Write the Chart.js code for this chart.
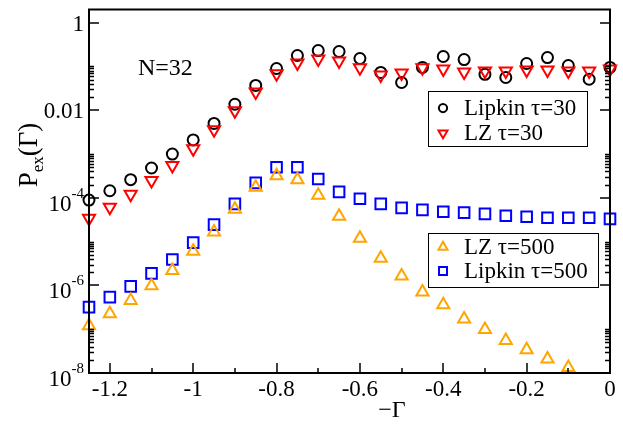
<!DOCTYPE html>
<html>
<head>
<meta charset="utf-8">
<script src="https://cdn.jsdelivr.net/npm/chart.js@4/dist/chart.umd.min.js"></script>
<style>
  html, body { margin: 0; padding: 0; background: #fff; }
  canvas { display: block; }
</style>
</head>
<body>
<canvas id="pex" width="623" height="424"></canvas>
<script>
// -Gamma values
var gamma = [-1.25, -1.2, -1.15, -1.1, -1.05, -1.0, -0.95, -0.9, -0.85, -0.8, -0.75, -0.7, -0.65,
             -0.6, -0.55, -0.5, -0.45, -0.4, -0.35, -0.3, -0.25, -0.2, -0.15, -0.1, -0.05, 0];

var lipkin30 = [8.9e-5, 1.45e-4, 2.6e-4, 4.8e-4, 1.0e-3, 2.1e-3, 5.0e-3, 1.37e-2, 3.7e-2, 0.090, 0.178, 0.231, 0.22,
                0.152, 0.073, 0.043, 0.095, 0.169, 0.144, 0.066, 0.056, 0.117, 0.16, 0.105, 0.051, 0.095];
var lz30 = [3.4e-5, 6.1e-5, 1.2e-4, 2.5e-4, 5.5e-4, 1.33e-3, 3.6e-3, 9.8e-3, 0.026, 0.068, 0.12, 0.148, 0.133,
            0.093, 0.064, 0.071, 0.093, 0.088, 0.075, 0.079, 0.079, 0.083, 0.083, 0.079, 0.079, 0.088];
var lz500 = [1.2e-7, 2.25e-7, 4.5e-7, 9.8e-7, 2.2e-6, 6e-6, 1.65e-5, 5.5e-5, 1.74e-4, 3.2e-4, 2.6e-4, 1.15e-4, 3.8e-5,
             1.2e-5, 4.2e-6, 1.65e-6, 7.1e-7, 3.6e-7, 1.7e-7, 9.8e-8, 5.5e-8, 3.4e-8, 2.1e-8, 1.33e-8, null, null];
var lipkin500 = [3.2e-7, 5.4e-7, 9.5e-7, 1.88e-6, 3.9e-6, 9.5e-6, 2.45e-5, 7.3e-5, 2.2e-4, 5.0e-4, 5.0e-4, 2.7e-4, 1.37e-4,
                 9.5e-5, 7.3e-5, 5.9e-5, 5.3e-5, 4.8e-5, 4.6e-5, 4.3e-5, 3.9e-5, 3.7e-5, 3.5e-5, 3.5e-5, 3.5e-5, 3.3e-5];

var xTickValues = [-1.2, -1.0, -0.8, -0.6, -0.4, -0.2, 0];
var xTickLabels = ['-1.2', '-1', '-0.8', '-0.6', '-0.4', '-0.2', '0'];
var xMinorTicks = [-1.1, -0.9, -0.7, -0.5, -0.3, -0.1];
var yTickValues = [1, 1e-2, 1e-4, 1e-6, 1e-8];
var yTickBase = ['1', '0.01', '10', '10', '10'];
var yTickExp = ['', '', '-4', '-6', '-8'];

var FONT = '"Liberation Serif", "DejaVu Serif", serif';

function pts(arr) {
  var out = [];
  for (var i = 0; i < gamma.length; i++) {
    if (arr[i] != null) out.push({x: gamma[i], y: arr[i]});
  }
  return out;
}

var series = [
  {label: 'Lipkin \u03c4=30', data: lipkin30, color: '#000000', style: 'circle', rot: 0, r: 5.5, order: 2},
  {label: 'LZ \u03c4=30', data: lz30, color: '#ff0000', style: 'triangle', rot: 180, r: 7, order: 1},
  {label: 'LZ \u03c4=500', data: lz500, color: '#ffa500', style: 'triangle', rot: 0, r: 7, order: 1},
  {label: 'Lipkin \u03c4=500', data: lipkin500, color: '#0000ff', style: 'rect', rot: 0, r: 7.5, order: 2}
];

var frame = {
  id: 'frame',
  afterDraw: function(chart) {
    var ctx = chart.ctx, a = chart.chartArea;
    var xs = chart.scales.x, ys = chart.scales.y;
    ctx.save();
    ctx.strokeStyle = '#000';
    ctx.fillStyle = '#000';
    ctx.lineWidth = 2;
    ctx.strokeRect(a.left, a.top, a.right - a.left, a.bottom - a.top);

    // x ticks (inward, bottom)
    ctx.beginPath();
    xTickValues.forEach(function(v) {
      var px = Math.round(xs.getPixelForValue(v));
      ctx.moveTo(px, a.bottom); ctx.lineTo(px, a.bottom - 10);
    });
    xMinorTicks.forEach(function(v) {
      var px = Math.round(xs.getPixelForValue(v));
      ctx.moveTo(px, a.bottom); ctx.lineTo(px, a.bottom - 5);
    });
    // y ticks left and right
    yTickValues.forEach(function(v) {
      var py = Math.round(ys.getPixelForValue(v));
      ctx.moveTo(a.left, py); ctx.lineTo(a.left + 10, py);
      ctx.moveTo(a.right, py); ctx.lineTo(a.right - 10, py);
      for (var k = 2; k <= 10; k++) {
        var m = v * k;
        if (m >= ys.max) continue;
        var q = Math.round(ys.getPixelForValue(m)) + 0.5;
        ctx.moveTo(a.left, q); ctx.lineTo(a.left + 5, q);
        ctx.moveTo(a.right, q); ctx.lineTo(a.right - 5, q);
      }
    });
    ctx.lineWidth = 1.5;
    ctx.stroke();

    // x tick labels
    ctx.font = '23px ' + FONT;
    ctx.textAlign = 'center';
    ctx.textBaseline = 'alphabetic';
    xTickValues.forEach(function(v, i) {
      ctx.fillText(xTickLabels[i], xs.getPixelForValue(v), a.bottom + 23);
    });

    // y tick labels
    ctx.textAlign = 'right';
    yTickValues.forEach(function(v, i) {
      var py = ys.getPixelForValue(v);
      var rx = a.left - 5;
      if (yTickExp[i]) {
        ctx.font = '15px ' + FONT;
        var we = ctx.measureText(yTickExp[i]).width;
        ctx.fillText(yTickExp[i], rx, py);
        ctx.font = '23px ' + FONT;
        ctx.fillText(yTickBase[i], rx - we, py + 13);
      } else {
        ctx.font = '23px ' + FONT;
        ctx.fillText(yTickBase[i], rx, py + 8);
      }
    });

    // axis titles
    ctx.textAlign = 'center';
    ctx.font = '24px ' + FONT;
    ctx.fillText('\u2212\u0393', 392, 417);

    ctx.save();
    ctx.translate(37, 155);
    ctx.rotate(-Math.PI / 2);
    ctx.textAlign = 'left';
    ctx.font = '27px ' + FONT;
    var wP = ctx.measureText('P').width;
    ctx.font = '17px ' + FONT;
    var wSub = ctx.measureText('ex').width;
    ctx.font = '27px ' + FONT;
    var wG = ctx.measureText('(\u0393)').width;
    var x0 = -(wP + wSub + wG) / 2;
    ctx.fillText('P', x0, 0);
    ctx.font = '17px ' + FONT;
    ctx.fillText('ex', x0 + wP, 6);
    ctx.font = '27px ' + FONT;
    ctx.fillText('(\u0393)', x0 + wP + wSub, 0);
    ctx.restore();

    // annotation
    ctx.textAlign = 'left';
    ctx.font = '24px ' + FONT;
    ctx.fillText('N=32', 138, 75);

    // legends
    function legend(box, items, rows) {
      ctx.lineWidth = 1;
      ctx.strokeStyle = '#000';
      ctx.strokeRect(box[0] + 0.5, box[1] + 0.5, box[2] - box[0], box[3] - box[1]);
      items.forEach(function(s, j) {
        ctx.strokeStyle = s.color;
        ctx.fillStyle = 'rgba(0,0,0,0)';
        ctx.lineWidth = 2;
        Chart.helpers.drawPoint(ctx, {pointStyle: s.style, rotation: s.rot, radius: s.r * 0.75, borderWidth: 2}, 443, rows[j]);
        ctx.fillStyle = '#000';
        ctx.font = '23px ' + FONT;
        ctx.textAlign = 'left';
        ctx.fillText(s.label, 464, rows[j] + 7);
      });
    }
    legend([428, 91, 587, 146], [series[0], series[1]], [108, 133]);
    legend([428, 233, 598, 287], [series[2], series[3]], [247, 271]);
    ctx.restore();
  }
};

var ctx = document.getElementById('pex').getContext('2d');
new Chart(ctx, {
  type: 'scatter',
  data: {
    datasets: series.map(function(s) {
      return {
        label: s.label,
        data: pts(s.data),
        pointStyle: s.style,
        rotation: s.rot,
        pointRadius: s.r,
        pointBorderWidth: 2,
        pointBorderColor: s.color,
        pointBackgroundColor: 'rgba(0,0,0,0)',
        showLine: false,
        clip: false,
        order: s.order
      };
    })
  },
  options: {
    responsive: false,
    devicePixelRatio: 1,
    animation: false,
    layout: {padding: {left: 89, right: 13, top: 8, bottom: 51}},
    scales: {
      x: {type: 'linear', min: -1.25, max: 0, display: false},
      y: {type: 'logarithmic', min: 1e-8, max: 2, display: false}
    },
    plugins: {legend: {display: false}, tooltip: {enabled: false}}
  },
  plugins: [frame]
});
</script>
</body>
</html>
